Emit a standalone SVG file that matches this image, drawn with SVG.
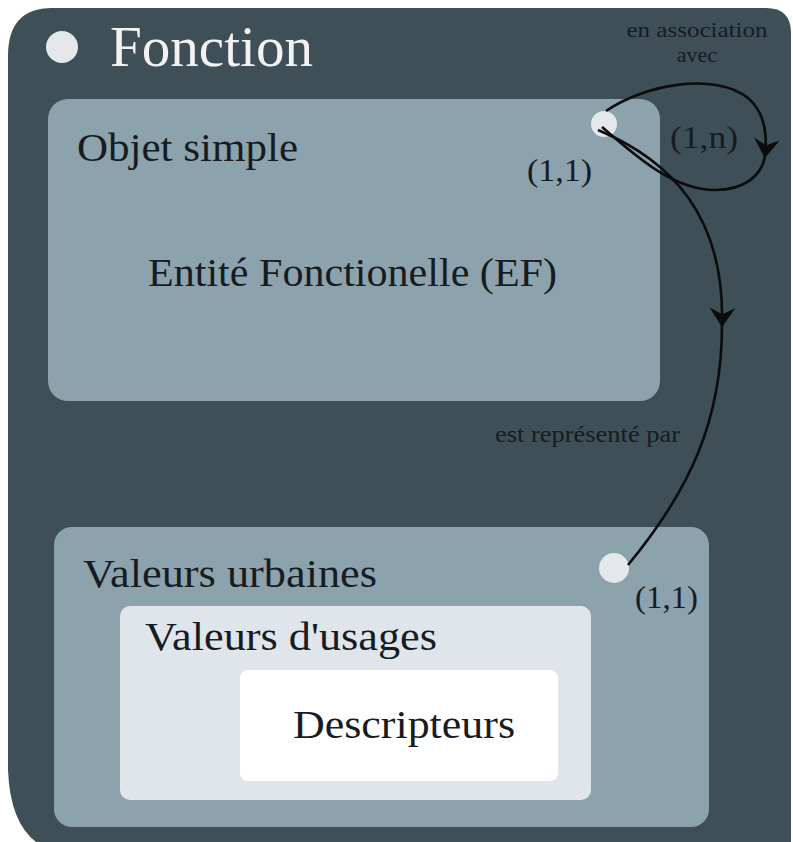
<svg xmlns="http://www.w3.org/2000/svg" width="793" height="842" viewBox="0 0 793 842">
<defs>
<style>
.t{font-family:"Liberation Serif","Times New Roman",serif;fill:#161c22}
.box{fill:#8ca2ad}
.dot{fill:#e4e8ea}
.conn{fill:none;stroke:#0a0c0e;stroke-width:2.6}
</style>
<marker id="ah" markerUnits="userSpaceOnUse" markerWidth="30" markerHeight="30" viewBox="-18 -14 22 28" refX="0" refY="0" orient="auto">
<path d="M2,0 L-16,-12 L-10,0 L-16,12 Z" fill="#0a0c0e"/>
</marker>
</defs>
<rect width="793" height="842" fill="#ffffff"/>
<g id="fonction">
<path d="M52 8 H766 Q791 8 791 33 V842 H36 Q10 822 8 770 V56 Q8 8 52 8 Z" fill="#3e4f57"/>
<circle class="dot" cx="62" cy="47" r="16"/>
<text x="110" y="66" font-size="56" textLength="203" lengthAdjust="spacingAndGlyphs" style="font-family:'Liberation Serif','Times New Roman',serif;fill:#f2f2f2">Fonction</text>
</g>
<g id="objet-simple">
<rect class="box" x="48" y="99" width="612" height="302" rx="20"/>
<text class="t" x="77" y="161" font-size="40" textLength="221" lengthAdjust="spacingAndGlyphs">Objet simple</text>
<text class="t" x="148" y="286" font-size="40" textLength="409" lengthAdjust="spacingAndGlyphs">Entité Fonctionelle (EF)</text>
<circle class="dot" cx="604" cy="124" r="13"/>
</g>
<g id="valeurs-urbaines">
<rect class="box" x="54" y="527" width="655" height="300" rx="18"/>
<text class="t" x="83" y="587" font-size="40" textLength="294" lengthAdjust="spacingAndGlyphs">Valeurs urbaines</text>
<circle class="dot" cx="614" cy="568" r="15"/>
</g>
<g id="valeurs-usages">
<rect x="120" y="606" width="471" height="194" rx="10" fill="#dfe5eb"/>
<text class="t" x="145" y="650" font-size="40" textLength="292" lengthAdjust="spacingAndGlyphs">Valeurs d'usages</text>
</g>
<g id="descripteurs">
<rect x="240" y="670" width="318" height="111" rx="8" fill="#ffffff"/>
<text class="t" x="293" y="738" font-size="40" textLength="222" lengthAdjust="spacingAndGlyphs">Descripteurs</text>
</g>
<g id="connectors">
<path class="conn" d="M606 111 C645 84 715 72 748 98 C762 110 768 130 765 156" marker-end="url(#ah)"/>
<path class="conn" d="M765 156 C762 175 745 190 715 190 C675 190 640 160 602 127"/>
<path class="conn" d="M598 130 C670 160 725 215 722 325" marker-end="url(#ah)"/>
<path class="conn" d="M722 325 C722 420 690 490 628 565"/>
<text class="t" x="697" y="37" font-size="22" text-anchor="middle" textLength="141" lengthAdjust="spacingAndGlyphs">en association</text>
<text class="t" x="697" y="62" font-size="22" text-anchor="middle">avec</text>
<text class="t" x="670" y="148" font-size="32" textLength="68" lengthAdjust="spacingAndGlyphs">(1,n)</text>
<text class="t" x="527" y="181" font-size="32" textLength="65" lengthAdjust="spacingAndGlyphs">(1,1)</text>
<text class="t" x="495" y="442" font-size="24" textLength="185" lengthAdjust="spacingAndGlyphs">est représenté par</text>
<text class="t" x="635" y="608" font-size="32" textLength="63" lengthAdjust="spacingAndGlyphs">(1,1)</text>
</g>
</svg>
